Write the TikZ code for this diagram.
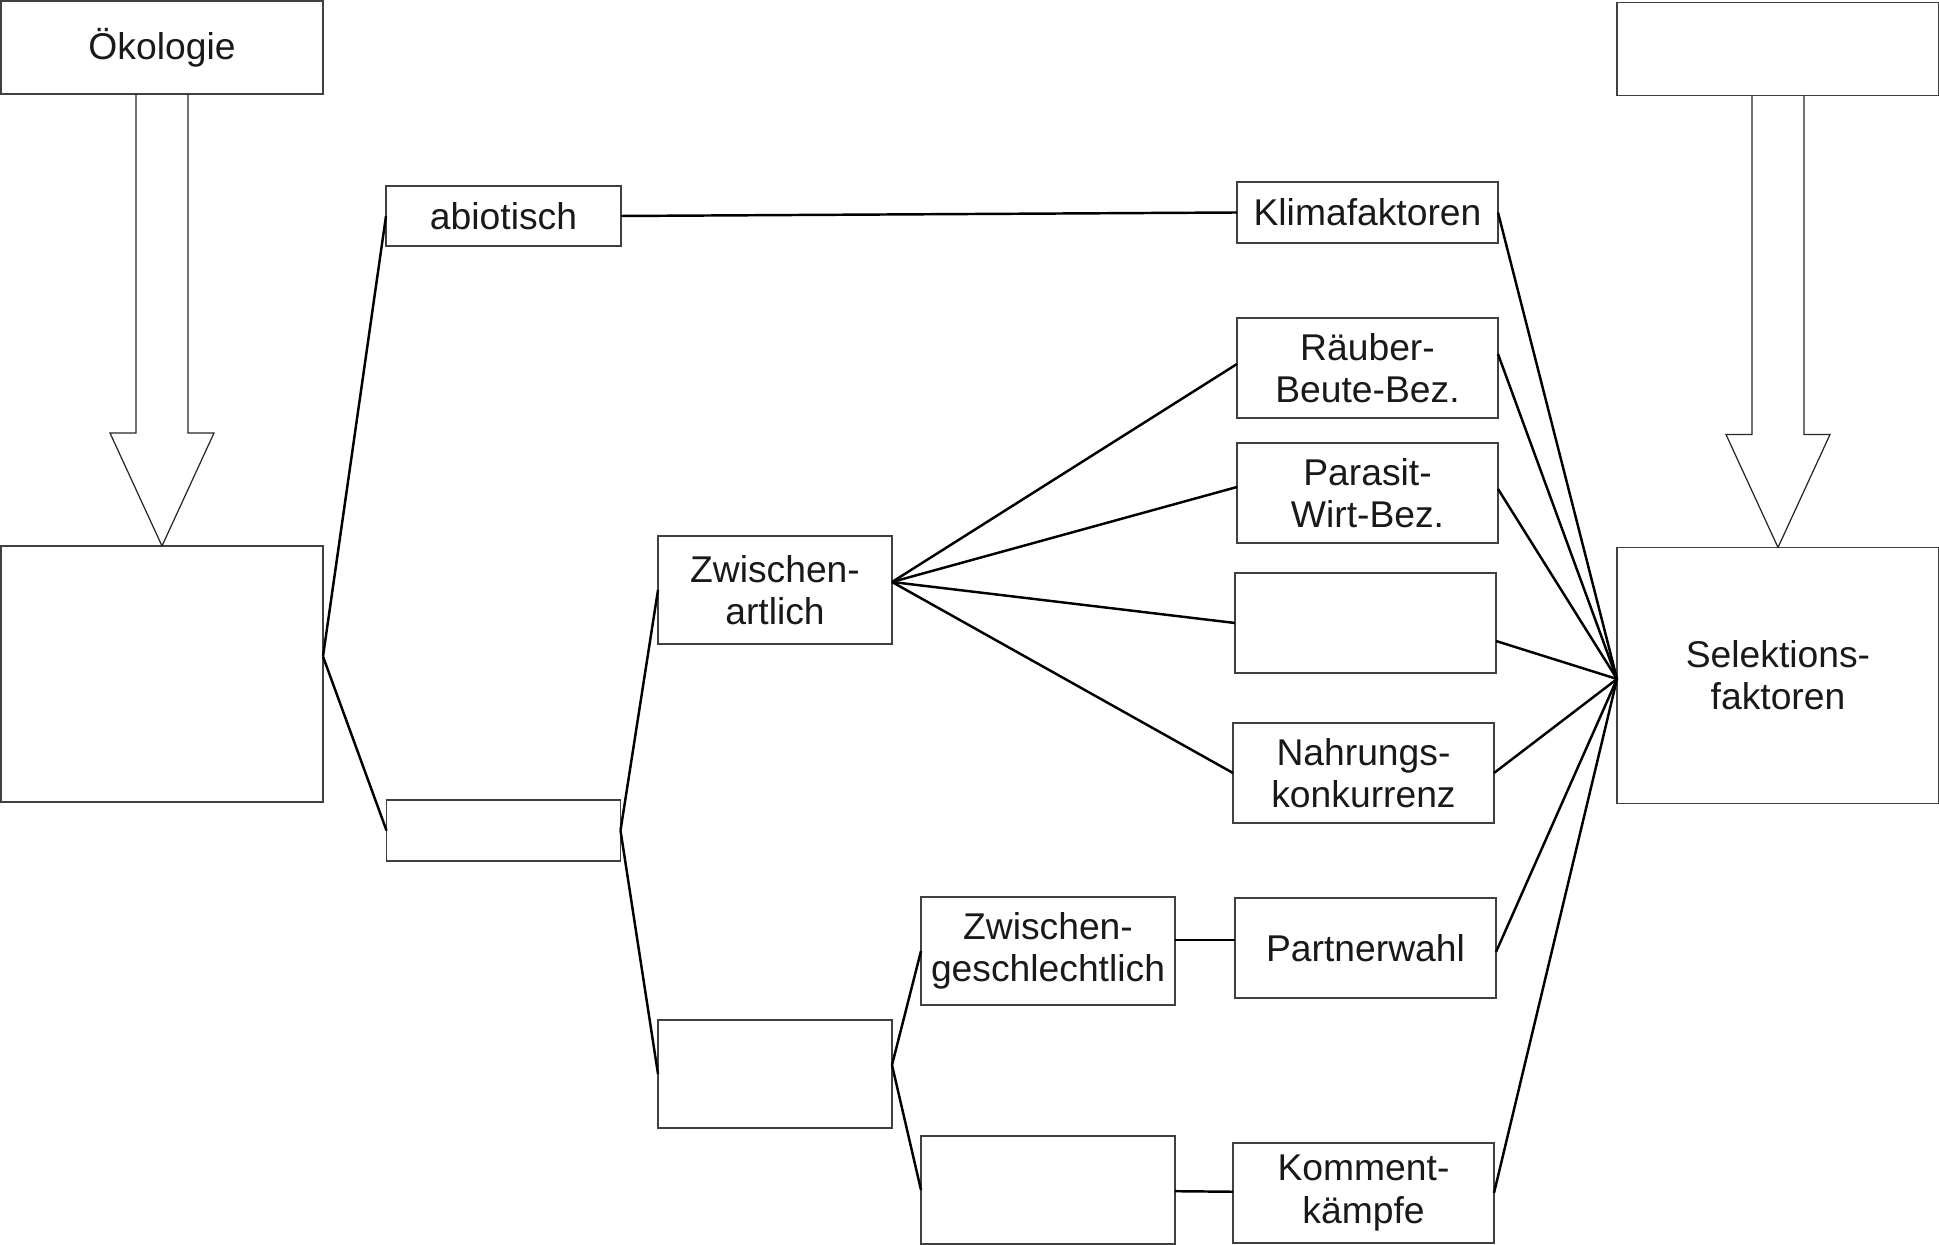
\documentclass[tikz,border=0pt]{standalone}
\usepackage{fontspec}
\setmainfont{Liberation Sans}
\usepackage{xcolor}
\usepackage{tikz}
\usetikzlibrary{positioning}

\begin{document}
\begin{tikzpicture}[
    node distance=0.25cm and 0.5cm,
    box/.style={rectangle, draw=black!75, line width=0.4pt, minimum width=2.61cm, minimum height=1cm, inner sep=0pt, outer sep=0pt, align=center, text=black!90, font=\fontsize{10.6pt}{12pt}\selectfont},
    midbox/.style={box, minimum width=2.34cm, minimum height=1.08cm},
    headbox/.style={box, minimum width=3.22cm, minimum height=0.93cm},
    bigbox/.style={box, minimum width=3.22cm, minimum height=2.56cm},
    link/.style={line width=0.7pt, black},
    hollow/.style={line width=0.35pt, black!85}
]
\useasboundingbox (0,0) rectangle (19.39,-12.45);

% Top boxes and big boxes
\node[headbox] (oeko) at (1.62,-0.475) {Ökologie};
\node[headbox] (topR) at (17.78,-0.49) {};
\node[bigbox, below=4.52cm of oeko] (bigL) {};
\node[bigbox, below=4.52cm of topR] (selekt) {Selektions-\\faktoren};

% Hollow arrows
\draw[hollow] (bigL.north) -- ++(-0.52,1.13) -- ++(0.26,0) -- ++(0,3.39);
\draw[hollow] (bigL.north) -- ++(0.52,1.13) -- ++(-0.26,0) -- ++(0,3.39);
\draw[hollow] (selekt.north) -- ++(-0.52,1.13) -- ++(0.26,0) -- ++(0,3.39);
\draw[hollow] (selekt.north) -- ++(0.52,1.13) -- ++(-0.26,0) -- ++(0,3.39);

% Middle columns
\node[midbox, minimum width=2.35cm, minimum height=0.6cm] (abio) at (5.035,-2.16) {abiotisch};
\node[midbox, minimum height=0.61cm, below=5.54cm of abio] (bio) {};
\node[midbox] (zart) at (7.75,-5.90) {Zwischen-\\artlich};
\node[midbox, below=3.76cm of zart] (zemp) {};
\node[midbox, minimum width=2.54cm] (zgesch) at (10.48,-9.51) {Zwischen-\\geschlechtlich};
\node[midbox, minimum width=2.54cm, below=1.31cm of zgesch] (zgemp) {};

% Right column
\node[box, minimum height=0.61cm] (klima) at (13.675,-2.125) {Klimafaktoren};
\node[box, below=0.75cm of klima] (raeuber) {Räuber-\\Beute-Bez.};
\node[box, below=of raeuber] (parasit) {Parasit-\\Wirt-Bez.};
\node[box, below=0.30cm of parasit, xshift=-0.02cm] (emptyR) {};
\node[box, below=0.50cm of emptyR, xshift=-0.02cm] (nahrung) {Nahrungs-\\konkurrenz};
\node[box, below=0.75cm of nahrung, xshift=0.02cm] (partner) {Partnerwahl};
\node[box, below=1.45cm of partner, xshift=-0.02cm] (komment) {Komment-\\kämpfe};

% Tree lines
\draw[link] ([yshift=1.75mm]bigL.east) -- (abio.west);
\draw[link] ([yshift=1.75mm]bigL.east) -- (bio.west);
\draw[link] (abio.east) -- (klima.west);
\draw[link] (bio.east) -- (zart.west);
\draw[link] (bio.east) -- (zemp.west);
\foreach \n/\s in {raeuber/0.4, parasit/0.6, emptyR/0, nahrung/0}
    \draw[link] ([yshift=0.8mm]zart.east) -- ([yshift=\s mm]\n.west);
\draw[link] ([yshift=0.9mm]zemp.east) -- (zgesch.west);
\draw[link] ([yshift=0.9mm]zemp.east) -- (zgemp.west);
\draw[link] ([yshift=1.1mm]zgesch.east) -- ([yshift=1.1mm]zgesch.east -| partner.west);
\draw[link] (zgemp) -- (komment);

% Lines into Selektionsfaktoren
\foreach \n/\s in {klima/0, raeuber/1.4, parasit/0.4, emptyR/-1.8, nahrung/0, partner/-0.4, komment/0}
    \draw[link] ([yshift=\s mm]\n.east) -- ([yshift=-0.35mm]selekt.west);

\end{tikzpicture}
\end{document}
